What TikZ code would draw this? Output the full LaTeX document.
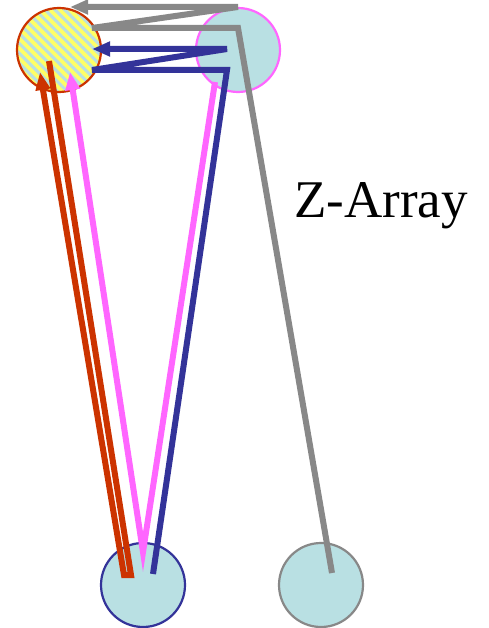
\documentclass[tikz,border=0pt]{standalone}
\usepackage{fontspec}
\setmainfont{Liberation Serif}
\usetikzlibrary{arrows.meta, patterns.meta}
\definecolor{cyanfill}{HTML}{B9E0E3}
\definecolor{zgray}{HTML}{888888}
\definecolor{zblue}{HTML}{333399}
\definecolor{zpink}{HTML}{FF66FF}
\definecolor{zred}{HTML}{CC3300}
\definecolor{zyellow}{HTML}{FFFF66}

\begin{document}
\begin{tikzpicture}[
  x=1pt, y=-1pt, >={Triangle[length=18pt,width=14pt]},
  proc/.style={circle, minimum size=84pt, inner sep=0pt, line width=2.2pt, fill=cyanfill},
  link/.style={line width=6pt, line join=miter}
]
  \useasboundingbox (0,0) rectangle (488,628);
  % processes
  \node[proc, draw=zred, preaction={fill=zyellow},
        pattern={Lines[angle=-45,distance=7pt,line width=3pt]}, pattern color=cyanfill] (P0) at (59,50) {};
  \node[proc, draw=zpink] (P1) at (238,50) {};
  \node[proc, draw=zblue] (P2) at (143,585) {};
  \node[proc, draw=zgray] (P3) at (321,585) {};
  \node[font=\fontsize{53}{60}\selectfont, anchor=base] (lbl) at (381,218) {Z-Array};
  % bends
  \coordinate (g0) at (332,573); \coordinate (g1) at (238,28);
  \coordinate (g2) at (92,28);  \coordinate (g3) at (238,7); \coordinate (g4) at (70,7);
  \coordinate (b0) at (153,574); \coordinate (b1) at (227,70);
  \coordinate (b2) at (92,70);  \coordinate (b3) at (227,49); \coordinate (b4) at (92,49);
  \coordinate (m0) at (215,82); \coordinate (m1) at (143,552); \coordinate (m2) at (70,72);
  \coordinate (r0) at (49,61);  \coordinate (r1) at (131,575);
  \coordinate (r2) at (124,575); \coordinate (r3) at (40,72);
  % messages
  \draw[link, zgray, ->] (g0) -- (g1) -- (g2) -- (g3) -- (g4);
  \draw[link, zblue, ->] (b0) -- (b1) -- (b2) -- (b3) -- (b4);
  \draw[link, zpink, ->] (m0) -- (m1) -- (m2);
  \draw[link, zred, ->] (r0) -- (r1) -- (r2) -- (r3);
\end{tikzpicture}
\end{document}
